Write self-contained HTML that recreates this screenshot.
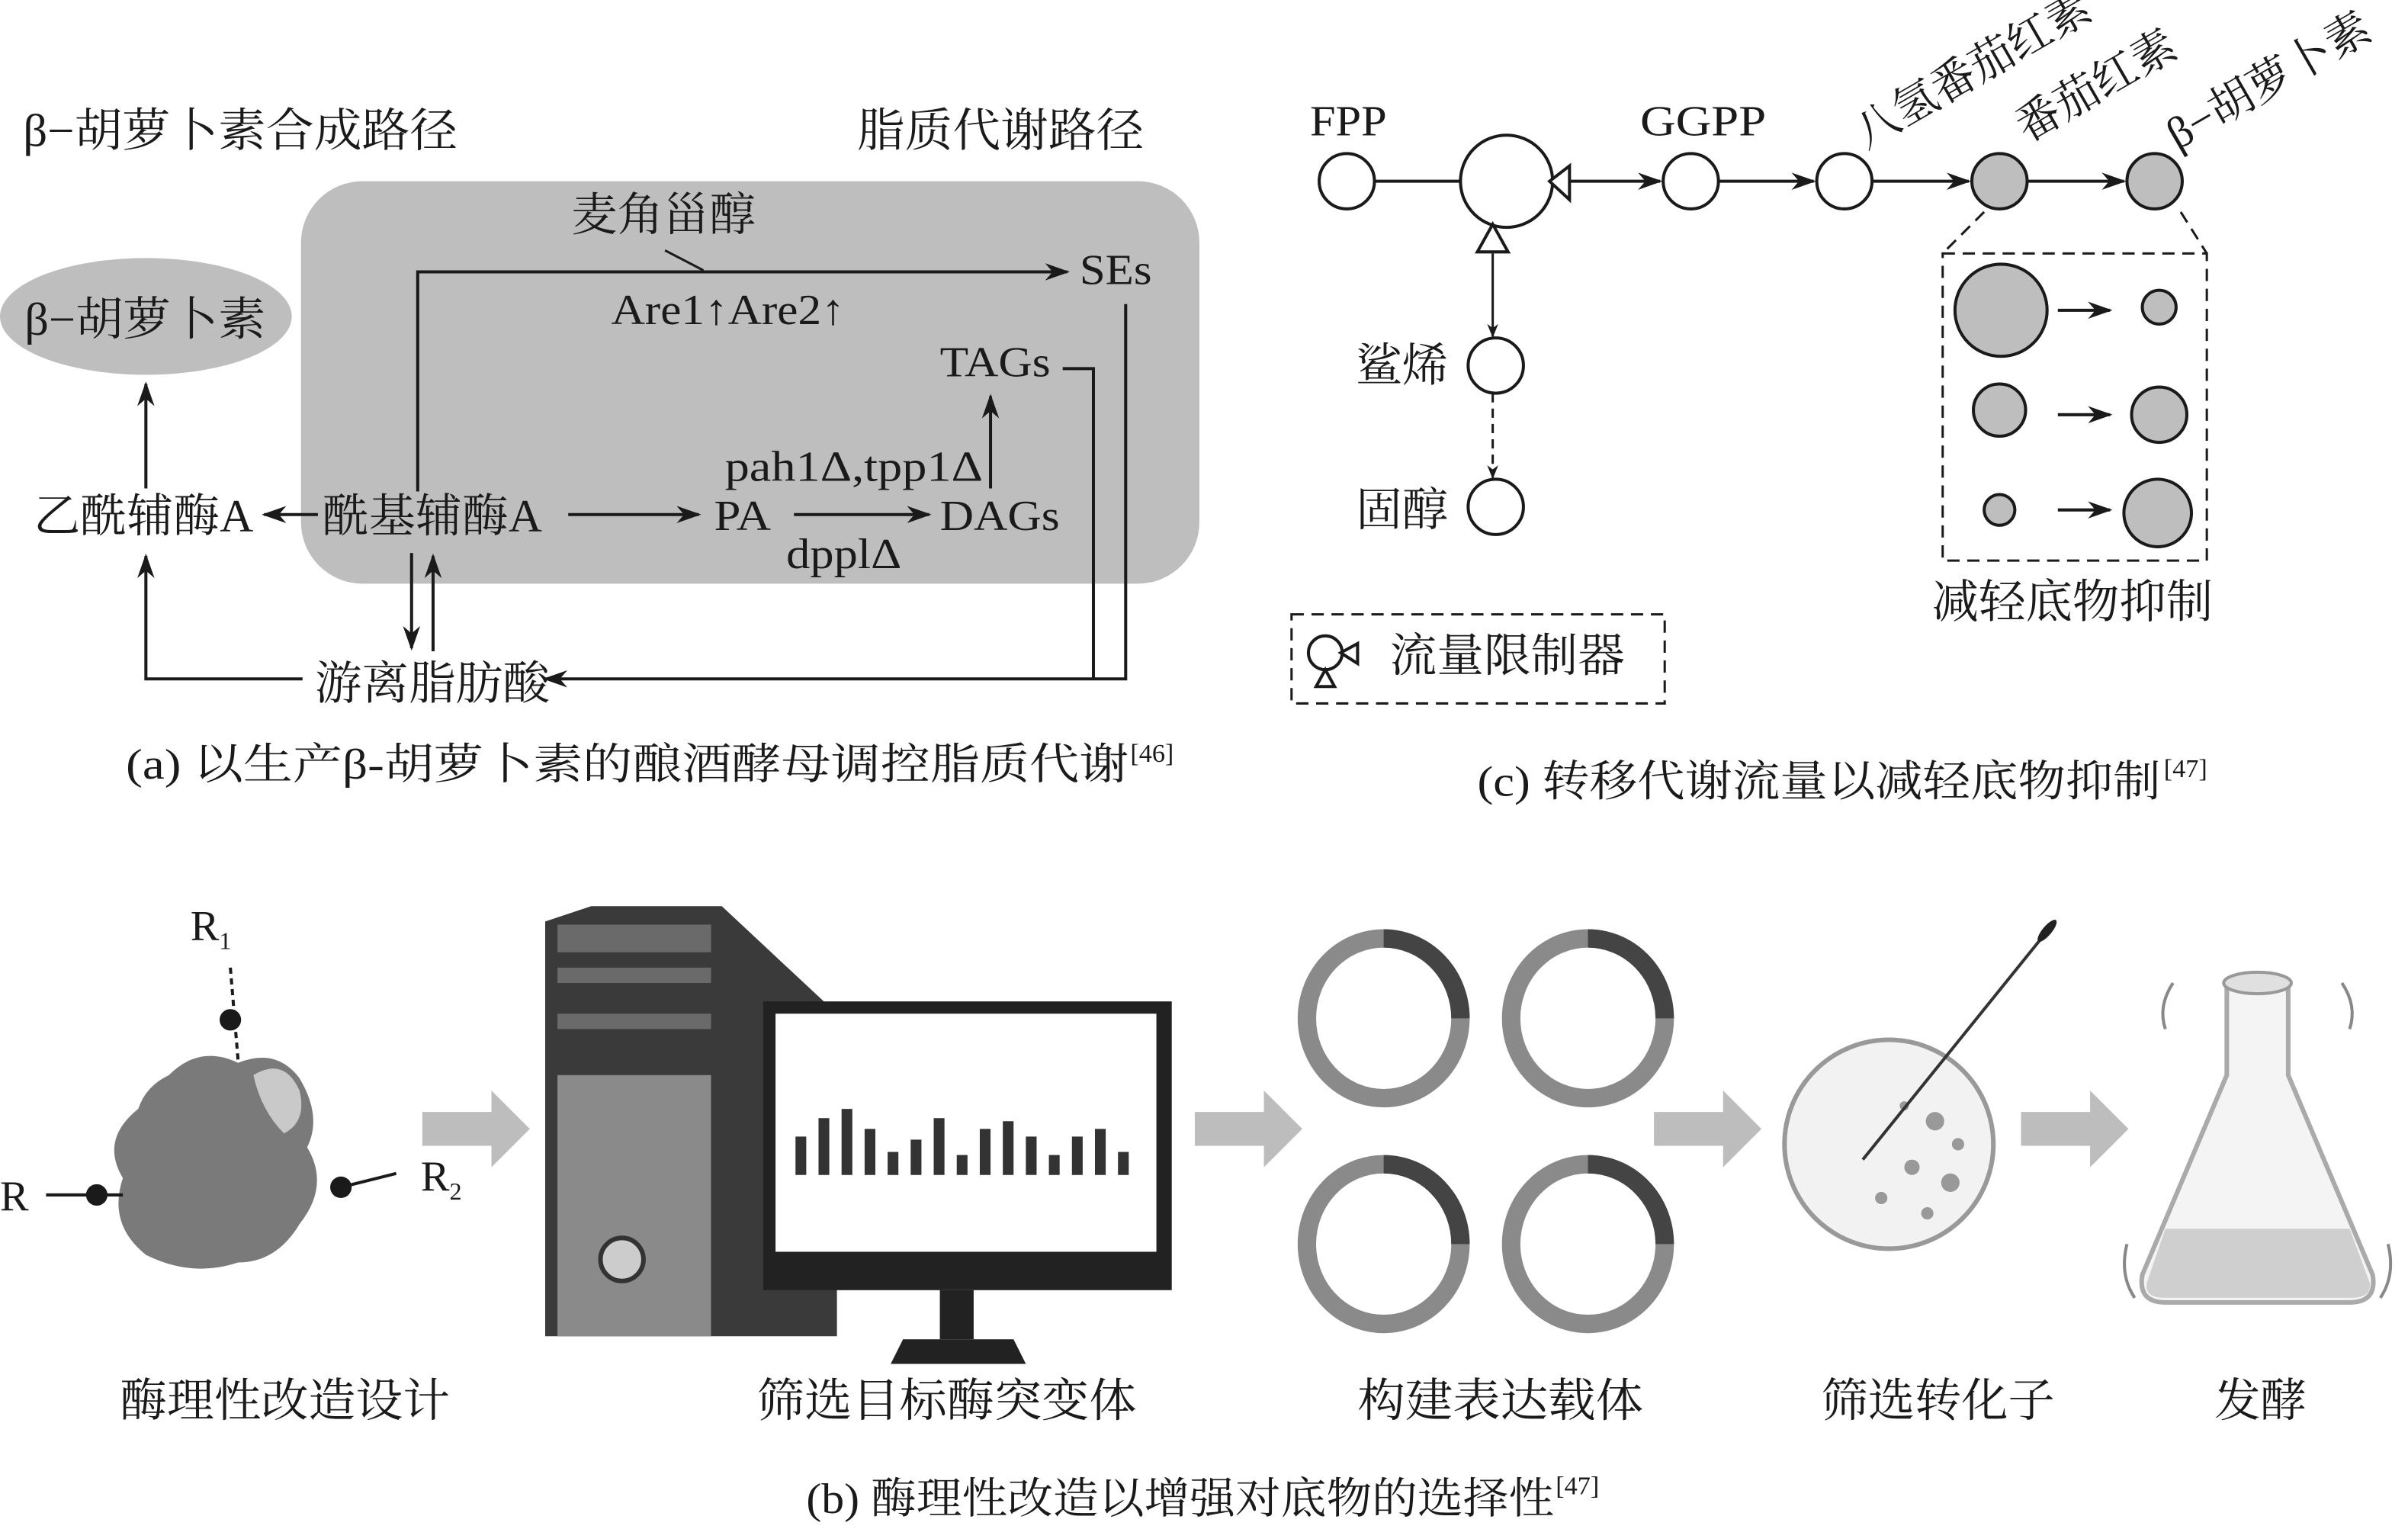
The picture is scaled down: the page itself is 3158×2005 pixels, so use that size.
<!DOCTYPE html>
<html><head><meta charset="utf-8"><style>
html,body{margin:0;padding:0;background:#fff}
svg{display:block}
text{font-family:"Liberation Serif","Noto Serif CJK SC","Noto Sans CJK SC",serif;fill:#1a1a1a}
</style></head><body>
<svg width="3158" height="2005" viewBox="0 0 1568 995.5" xmlns="http://www.w3.org/2000/svg">
<defs>
<marker id="ar" viewBox="0 0 10 10" refX="9" refY="5" markerWidth="9" markerHeight="9" markerUnits="userSpaceOnUse" orient="auto"><path d="M0,1 L10,5 L0,9 L3,5z" fill="#1a1a1a"/></marker>
<marker id="ar2" viewBox="0 0 10 10" refX="9" refY="5" markerWidth="16" markerHeight="16" markerUnits="userSpaceOnUse" orient="auto"><path d="M0,1.5 L10,5 L0,8.5 L3,5z" fill="#1a1a1a"/></marker>
</defs>
<g>
<text x="15" y="95" font-size="30" textLength="283" lengthAdjust="spacingAndGlyphs">β−胡萝卜素合成路径</text>
<text x="558" y="95" font-size="30" textLength="187" lengthAdjust="spacingAndGlyphs">脂质代谢路径</text>
<rect x="196" y="118" width="585" height="262" rx="40" fill="#bebebe"/>
<ellipse cx="95" cy="206" rx="95" ry="38" fill="#bebebe"/>
<text x="16" y="218" font-size="30" textLength="157" lengthAdjust="spacingAndGlyphs">β−胡萝卜素</text>
<text x="372" y="150" font-size="30" textLength="120" lengthAdjust="spacingAndGlyphs">麦角甾醇</text>
<line x1="433" y1="163" x2="458" y2="176" stroke="#1a1a1a" stroke-width="1.5"/>
<g stroke="#1a1a1a" stroke-width="2" fill="none">
<polyline points="272,320 272,177 695,177" marker-end="url(#ar2)"/>
<polyline points="692,240 712,240 712,442" />
<polyline points="733,198 733,442 355,442" marker-end="url(#ar2)"/>
<line x1="645" y1="318" x2="645" y2="258" marker-end="url(#ar2)"/>
<line x1="207" y1="335" x2="172" y2="335" marker-end="url(#ar2)"/>
<line x1="370" y1="335" x2="455" y2="335" marker-end="url(#ar2)"/>
<line x1="517" y1="335" x2="605" y2="335" marker-end="url(#ar2)"/>
<line x1="95" y1="318" x2="95" y2="250" marker-end="url(#ar2)"/>
<polyline points="197,442 95,442 95,362" marker-end="url(#ar2)"/>
<line x1="268" y1="360" x2="268" y2="422" marker-end="url(#ar2)"/>
<line x1="282" y1="424" x2="282" y2="362" marker-end="url(#ar2)"/>
</g>
<text x="703" y="185" font-size="28" textLength="47" lengthAdjust="spacingAndGlyphs">SEs</text>
<text x="398" y="211" font-size="28" textLength="152" lengthAdjust="spacingAndGlyphs">Are1↑Are2↑</text>
<text x="612" y="245" font-size="28" textLength="72" lengthAdjust="spacingAndGlyphs">TAGs</text>
<text x="472" y="313" font-size="28" textLength="168" lengthAdjust="spacingAndGlyphs">pah1Δ,tpp1Δ</text>
<text x="22" y="346" font-size="30" textLength="143" lengthAdjust="spacingAndGlyphs">乙酰辅酶A</text>
<text x="210" y="346" font-size="30" textLength="143" lengthAdjust="spacingAndGlyphs">酰基辅酶A</text>
<text x="465" y="345" font-size="28" textLength="37" lengthAdjust="spacingAndGlyphs">PA</text>
<text x="612" y="345" font-size="28" textLength="78" lengthAdjust="spacingAndGlyphs">DAGs</text>
<text x="512" y="370" font-size="28" textLength="75" lengthAdjust="spacingAndGlyphs">dpplΔ</text>
<text x="205" y="455" font-size="30" textLength="153" lengthAdjust="spacingAndGlyphs">游离脂肪酸</text>
<text x="82" y="507" font-size="28" textLength="653" lengthAdjust="spacingAndGlyphs">(a) 以生产β-胡萝卜素的酿酒酵母调控脂质代谢</text>
<text x="736" y="496" font-size="17">[46]</text>

<g stroke="#1a1a1a" stroke-width="2" fill="none">
<line x1="895" y1="118" x2="951" y2="118"/>
<line x1="1022" y1="118" x2="1081" y2="118" marker-end="url(#ar2)"/>
<line x1="1119" y1="118" x2="1181" y2="118" marker-end="url(#ar2)"/>
<line x1="1219" y1="118" x2="1282" y2="118" marker-end="url(#ar2)"/>
<line x1="1320" y1="118" x2="1383" y2="118" marker-end="url(#ar2)"/>
<line x1="972" y1="165" x2="972" y2="219" stroke-width="1.5" marker-end="url(#ar)"/>
<line x1="972" y1="256" x2="972" y2="311" stroke-width="1.5" stroke-dasharray="6,4" marker-end="url(#ar)"/>
<circle cx="877" cy="118" r="18" fill="#fff"/>
<circle cx="981" cy="118" r="30" fill="#fff"/>
<path d="M1009,118 L1022,108 L1022,130z" fill="#fff"/>
<path d="M972,146 L962,164 L982,164z" fill="#fff"/>
<circle cx="1101" cy="118" r="18" fill="#fff"/>
<circle cx="1201" cy="118" r="18" fill="#fff"/>
<circle cx="1302" cy="118" r="18" fill="#bebebe"/>
<circle cx="1403" cy="118" r="18" fill="#bebebe"/>
<circle cx="974" cy="238" r="18" fill="#fff"/>
<circle cx="974" cy="330" r="18" fill="#fff"/>
<g stroke-dasharray="8,5" stroke-width="1.5">
<rect x="1265" y="165" width="172" height="200"/>
<line x1="1292" y1="138" x2="1265" y2="165"/>
<line x1="1420" y1="138" x2="1437" y2="165"/>
<rect x="841" y="400" width="243" height="58"/>
</g>
<circle cx="1303" cy="202" r="30" fill="#bebebe"/>
<circle cx="1406" cy="200" r="11" fill="#bebebe"/>
<circle cx="1302" cy="267" r="17" fill="#bebebe"/>
<circle cx="1406" cy="270" r="18" fill="#bebebe"/>
<circle cx="1302" cy="332" r="10" fill="#bebebe"/>
<circle cx="1405" cy="334" r="22" fill="#bebebe"/>
<line x1="1340" y1="202" x2="1374" y2="202" marker-end="url(#ar2)"/>
<line x1="1340" y1="270" x2="1374" y2="270" marker-end="url(#ar2)"/>
<line x1="1340" y1="332" x2="1374" y2="332" marker-end="url(#ar2)"/>
<circle cx="863" cy="425" r="11" fill="#fff"/>
<path d="M873,425 L884,419 L884,432z" fill="#fff"/>
<path d="M863,436 L857,447 L869,447z" fill="#fff"/>
</g>
<text x="853" y="88" font-size="28" textLength="50" lengthAdjust="spacingAndGlyphs">FPP</text>
<text x="1068" y="88" font-size="28" textLength="82" lengthAdjust="spacingAndGlyphs">GGPP</text>
<text x="1215" y="97" font-size="29" textLength="172" lengthAdjust="spacingAndGlyphs" transform="rotate(-30 1215 97)">八氢番茄红素</text>
<text x="1320" y="93" font-size="29" textLength="115" lengthAdjust="spacingAndGlyphs" transform="rotate(-30 1320 93)">番茄红素</text>
<text x="1418" y="98" font-size="29" textLength="148" lengthAdjust="spacingAndGlyphs" transform="rotate(-30 1418 98)">β−胡萝卜素</text>
<text x="883" y="248" font-size="30" textLength="60" lengthAdjust="spacingAndGlyphs">鲨烯</text>
<text x="883" y="342" font-size="30" textLength="60" lengthAdjust="spacingAndGlyphs">固醇</text>
<text x="1258" y="402" font-size="30" textLength="183" lengthAdjust="spacingAndGlyphs">减轻底物抑制</text>
<text x="905" y="437" font-size="30" textLength="153" lengthAdjust="spacingAndGlyphs">流量限制器</text>
<text x="962" y="518" font-size="28" textLength="445" lengthAdjust="spacingAndGlyphs">(c) 转移代谢流量以减轻底物抑制</text>
<text x="1409" y="506" font-size="17">[47]</text>

<g fill="#bdbdbd">
<path d="M275,724 h45 v-14 l25,25 l-25,25 v-14 h-45z"/>
<path d="M778,724 h45 v-14 l25,25 l-25,25 v-14 h-45z"/>
<path d="M1077,724 h45 v-14 l25,25 l-25,25 v-14 h-45z"/>
<path d="M1316,724 h45 v-14 l25,25 l-25,25 v-14 h-45z"/>
</g>
<path d="M110,700 q20,-20 45,-8 q25,-10 40,10 q15,25 5,45 q15,25 -5,50 q-15,25 -40,25 q-30,10 -60,-5 q-25,-20 -15,-50 q-15,-25 10,-45 q5,-15 20,-22z" fill="#7a7a7a"/>
<path d="M165,700 q20,-12 30,10 q5,20 -10,28 q-15,-15 -20,-38z" fill="#c9c9c9"/>
<g stroke="#1a1a1a" stroke-width="2">
<line x1="30" y1="778" x2="80" y2="778"/>
<line x1="150" y1="630" x2="155" y2="690" stroke-dasharray="4,3"/>
<line x1="222" y1="773" x2="258" y2="764"/>
</g>
<circle cx="63" cy="778" r="7" fill="#1a1a1a"/>
<circle cx="150" cy="664" r="7" fill="#1a1a1a"/>
<circle cx="222" cy="773" r="7" fill="#1a1a1a"/>
<text x="0" y="788" font-size="28">R</text>
<text x="124" y="612" font-size="28">R<tspan font-size="16" dy="6">1</tspan></text>
<text x="274" y="775" font-size="28">R<tspan font-size="16" dy="6">2</tspan></text>
<path d="M355,600 L385,590 L470,590 L545,660 L545,870 L355,870z" fill="#3a3a3a"/>
<rect x="363" y="602" width="100" height="18" fill="#6a6a6a"/>
<rect x="363" y="630" width="100" height="10" fill="#6a6a6a"/>
<rect x="363" y="660" width="100" height="10" fill="#6a6a6a"/>
<rect x="363" y="700" width="100" height="170" fill="#8a8a8a"/>
<circle cx="405" cy="820" r="14" fill="#ccc" stroke="#333" stroke-width="3"/>
<rect x="497" y="652" width="266" height="188" fill="#222"/>
<rect x="505" y="660" width="248" height="155" fill="#fff"/>
<rect x="612" y="840" width="22" height="32" fill="#222"/>
<path d="M588,872 L660,872 L668,888 L580,888z" fill="#222"/>
<g fill="#333">
<rect x="518" y="740" width="7" height="25"/><rect x="533" y="728" width="7" height="37"/><rect x="548" y="722" width="7" height="43"/><rect x="563" y="735" width="7" height="30"/><rect x="578" y="750" width="7" height="15"/><rect x="593" y="742" width="7" height="23"/><rect x="608" y="728" width="7" height="37"/><rect x="623" y="752" width="7" height="13"/><rect x="638" y="735" width="7" height="30"/><rect x="653" y="730" width="7" height="35"/><rect x="668" y="740" width="7" height="25"/><rect x="683" y="752" width="7" height="13"/><rect x="698" y="740" width="7" height="25"/><rect x="713" y="735" width="7" height="30"/><rect x="728" y="750" width="7" height="15"/>
</g>
<g fill="none" stroke="#8a8a8a" stroke-width="12">
<ellipse cx="901" cy="663" rx="50" ry="52"/><ellipse cx="1034" cy="663" rx="50" ry="52"/>
<ellipse cx="901" cy="810" rx="50" ry="52"/><ellipse cx="1034" cy="810" rx="50" ry="52"/>
</g>
<g fill="none" stroke="#444" stroke-width="12">
<path d="M901,611 A50,52 0 0 1 951,663"/><path d="M1034,611 A50,52 0 0 1 1084,663"/>
<path d="M901,758 A50,52 0 0 1 951,810"/><path d="M1034,758 A50,52 0 0 1 1084,810"/>
</g>
<circle cx="1230" cy="745" r="68" fill="#f2f2f2" stroke="#999" stroke-width="3"/>
<g fill="#999"><circle cx="1260" cy="730" r="6"/><circle cx="1245" cy="760" r="5"/><circle cx="1270" cy="770" r="6"/><circle cx="1255" cy="790" r="4"/><circle cx="1225" cy="780" r="4"/><circle cx="1275" cy="745" r="4"/><circle cx="1240" cy="720" r="3"/></g>
<line x1="1213" y1="755" x2="1330" y2="610" stroke="#333" stroke-width="2"/>
<ellipse cx="1333" cy="606" rx="3" ry="9" fill="#222" transform="rotate(40 1333 606)"/>
<path d="M1450,640 L1490,640 L1490,700 L1545,830 Q1548,848 1530,848 L1410,848 Q1392,848 1395,830 L1450,700z" fill="#f4f4f4" stroke="#aaa" stroke-width="3"/>
<ellipse cx="1470" cy="640" rx="22" ry="7" fill="#e0e0e0" stroke="#999" stroke-width="2"/>
<path d="M1410,800 L1530,800 L1543,835 Q1545,845 1530,845 L1410,845 Q1396,845 1398,835z" fill="#cfcfcf"/>
<g fill="none" stroke="#888" stroke-width="2"><path d="M1415,640 q-10,15 -5,30"/><path d="M1525,640 q10,15 5,30"/><path d="M1385,810 q-5,20 5,35"/><path d="M1555,810 q5,20 -5,35"/></g>
<text x="78" y="922" font-size="30" textLength="215" lengthAdjust="spacingAndGlyphs">酶理性改造设计</text>
<text x="493" y="922" font-size="30" textLength="247" lengthAdjust="spacingAndGlyphs">筛选目标酶突变体</text>
<text x="884" y="922" font-size="30" textLength="186" lengthAdjust="spacingAndGlyphs">构建表达载体</text>
<text x="1186" y="922" font-size="30" textLength="152" lengthAdjust="spacingAndGlyphs">筛选转化子</text>
<text x="1442" y="922" font-size="30" textLength="60" lengthAdjust="spacingAndGlyphs">发酵</text>
<text x="525" y="985" font-size="28" textLength="487" lengthAdjust="spacingAndGlyphs">(b) 酶理性改造以增强对底物的选择性</text>
<text x="1013" y="973" font-size="17">[47]</text>
</g>
</svg>
</body></html>
